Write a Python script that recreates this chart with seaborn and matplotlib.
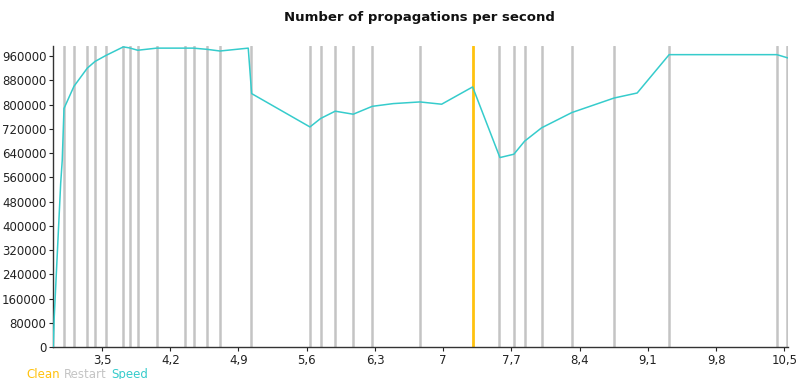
import matplotlib
matplotlib.use("Agg")
import matplotlib.pyplot as plt
import seaborn as sns
import pandas as pd
from matplotlib.ticker import FixedLocator, FuncFormatter

# Propagation speed over time
time_s = [3.0, 3.01, 3.076, 3.092, 3.110, 3.212, 3.349, 3.428, 3.541, 3.718,
          3.779, 3.866, 4.061, 4.351, 4.436, 4.579, 4.710, 5.000, 5.035, 5.633,
          5.743, 5.892, 6.077, 6.272, 6.487, 6.761, 6.984, 7.302, 7.582, 7.725,
          7.835, 8.009, 8.320, 8.754, 8.990, 9.318, 10.423, 10.538]
speed = [0, 100000, 540000, 616000, 787000, 860000, 920000, 942000, 962000, 990000,
         987000, 979000, 986000, 986000, 986000, 982000, 976500, 986000, 836000, 726000,
         754000, 778000, 768000, 794000, 803000, 808500, 801000, 858000, 625000, 636000,
         679000, 723000, 773500, 821500, 838000, 964500, 964500, 953500]

# Restart and clean events
restarts = [3.113, 3.212, 3.349, 3.428, 3.541, 3.718, 3.786, 3.866, 4.061, 4.354,
            4.440, 4.579, 4.710, 5.024, 5.633, 5.743, 5.892, 6.077, 6.272, 6.761,
            7.571, 7.725, 7.835, 8.009, 8.320, 8.754, 9.318, 10.423, 10.532]
cleans = [7.302]

x_ticks = [3.5, 4.2, 4.9, 5.6, 6.3, 7.0, 7.7, 8.4, 9.1, 9.8, 10.5]
y_ticks = [0, 80000, 160000, 240000, 320000, 400000, 480000, 560000,
           640000, 720000, 800000, 880000, 960000]

sns.set_style("white")
plt.rcParams["font.family"] = ["DejaVu Sans"]

C_SPEED = "#36cccc"
C_RESTART = "#c4c4c4"
C_CLEAN = "#ffc20e"

fig = plt.figure(figsize=(8.06, 3.79), dpi=100)
ax = fig.add_axes([0.0661, 0.0844, 0.9119, 0.7942])

for r in restarts:
    ax.axvline(r, color=C_RESTART, lw=1.8, zorder=1)
for c in cleans:
    ax.axvline(c, color=C_CLEAN, lw=2.0, zorder=2)

df = pd.DataFrame({"time": time_s, "speed": speed})
sns.lineplot(data=df, x="time", y="speed", ax=ax, color=C_SPEED, lw=1.1,
             sort=False, zorder=3)

ax.set_xlim(3.0, 10.54)
ax.set_ylim(0, 993000)
ax.xaxis.set_major_locator(FixedLocator(x_ticks))
ax.yaxis.set_major_locator(FixedLocator(y_ticks))
ax.xaxis.set_major_formatter(FuncFormatter(lambda v, p: f"{v:g}".replace(".", ",")))
ax.yaxis.set_major_formatter(FuncFormatter(lambda v, p: f"{int(round(v))}"))
ax.set_xlabel("")
ax.set_ylabel("")

for side in ("top", "right"):
    ax.spines[side].set_visible(False)
for side in ("left", "bottom"):
    ax.spines[side].set_color("#333333")
    ax.spines[side].set_linewidth(1.0)

ax.tick_params(axis="both", which="major", labelsize=8.5, colors="#222222",
               length=3, width=0.8, direction="out", bottom=True, left=True, pad=2)

fig.text(0.521, 0.955, "Number of propagations per second", ha="center", va="center",
         fontsize=9.5, fontweight="bold", color="#111111")

fig.text(0.033, 0.013, "Clean", color=C_CLEAN, fontsize=8.5, ha="left", va="center")
fig.text(0.079, 0.013, "Restart", color=C_RESTART, fontsize=8.5, ha="left", va="center")
fig.text(0.138, 0.013, "Speed", color=C_SPEED, fontsize=8.5, ha="left", va="center")

fig.savefig("out.png", dpi=100)
